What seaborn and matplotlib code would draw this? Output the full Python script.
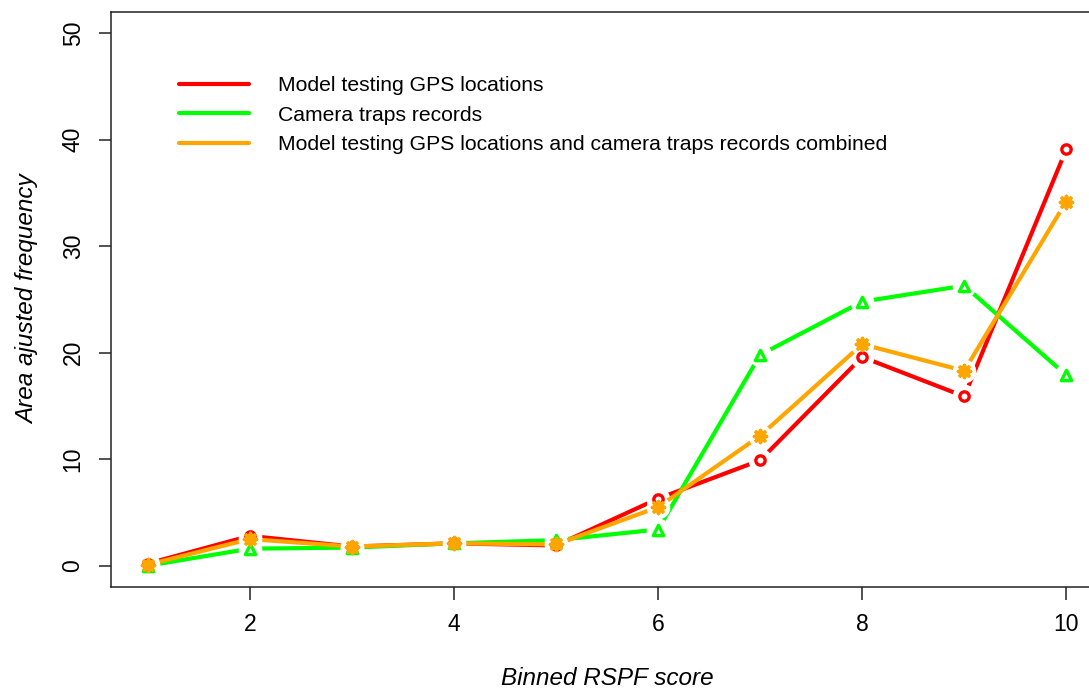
import matplotlib
matplotlib.use("Agg")
import matplotlib.pyplot as plt
import seaborn as sns
import pandas as pd
import numpy as np

sns.set_theme(style="white")
plt.rcParams['font.family'] = ['Liberation Sans', 'DejaVu Sans']
plt.rcParams['text.color'] = 'black'
plt.rcParams['axes.labelcolor'] = 'black'
plt.rcParams['xtick.color'] = 'black'
plt.rcParams['ytick.color'] = 'black'

bins = [1, 2, 3, 4, 5, 6, 7, 8, 9, 10]
gps = [0.2, 2.8, 1.8, 2.1, 1.9, 6.3, 9.9, 19.6, 15.9, 39.1]
camera = [0.0, 1.6, 1.7, 2.1, 2.4, 3.4, 19.8, 24.8, 26.3, 17.9]
combined = [0.1, 2.5, 1.8, 2.1, 2.0, 5.5, 12.2, 20.8, 18.3, 34.2]
labels = ["Model testing GPS locations",
          "Camera traps records",
          "Model testing GPS locations and camera traps records combined"]
colors = ["#FF0000", "#00FF00", "#FFA500"]
markers = ["o", "^", (8, 2, 0)]

fig = plt.figure(figsize=(10.89, 6.90), dpi=100)
ax = fig.add_axes([111/1089, 1-587/690, (1103-111)/1089, (587-12)/690])

series = [gps, camera, combined]
for i, (vals, lab, col, mk) in enumerate(zip(series, labels, colors, markers)):
    df = pd.DataFrame({"x": bins, "y": vals})
    n_before = len(ax.lines)
    sns.lineplot(data=df, x="x", y="y", color=col, lw=3, ax=ax, label=lab, zorder=2 + i)
    # type="b" style: a white disk on the line's own markers leaves a gap around each point
    for ln in ax.lines[n_before:]:
        ln.set_marker("o")
        ln.set_markersize(17)
        ln.set_markerfacecolor("white")
        ln.set_markeredgecolor("white")
        ln.set_markeredgewidth(0)
    if mk == "o":
        ax.scatter(df["x"], df["y"], s=45, marker=mk, facecolors="white",
                   edgecolors=col, linewidths=2.4, zorder=10)
    elif mk == "^":
        ax.scatter(df["x"], df["y"], s=55, marker=mk, facecolors="white",
                   edgecolors=col, linewidths=2.4, zorder=10)
    else:
        ax.scatter(df["x"], df["y"], s=75, marker=mk, color=col,
                   linewidths=2.6, zorder=10)

ax.set_xlim(0.64, 10.36)
ax.set_ylim(-2, 52)
ax.set_xticks([2, 4, 6, 8, 10])
ax.set_yticks([0, 10, 20, 30, 40, 50])
ax.tick_params(axis="both", direction="out", length=9, width=1.1, color="#222222",
               labelsize=16.5, left=True, bottom=True)
ax.tick_params(axis="x", pad=10)
ax.tick_params(axis="y", pad=10)
for lbl in ax.get_yticklabels():
    lbl.set_rotation(90)
    lbl.set_va("center")
for s in ax.spines.values():
    s.set_color("#222222")
    s.set_linewidth(1.1)
ax.set_xlabel("Binned RSPF score", fontsize=17.5, style="italic", labelpad=22)
ax.set_ylabel("Area ajusted frequency", fontsize=17.5, style="italic", labelpad=16)

leg = ax.legend(loc="upper left", bbox_to_anchor=(68/992, 1-64/575), frameon=False,
                fontsize=15.2, handlelength=3.3, handletextpad=1.4, labelspacing=0.5,
                borderaxespad=0, borderpad=0)
for line in leg.get_lines():
    line.set_linewidth(3)
    line.set_marker("")

fig.savefig("out.png", dpi=100)
